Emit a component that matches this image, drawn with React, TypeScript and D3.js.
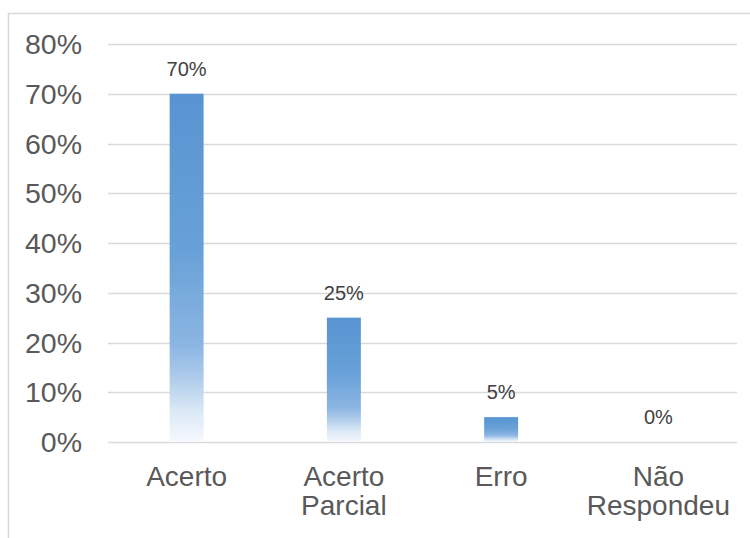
import React from "react";
import * as d3 from "d3";

// Answer categories (second entry wraps onto two lines)
const categories: string[][] = [["Acerto"], ["Acerto", "Parcial"], ["Erro"], ["Não", "Respondeu"]];
// Share of answers per category
const shares: number[] = [0.7, 0.25, 0.05, 0];
// Y-axis ticks
const yTicks: number[] = [0, 0.1, 0.2, 0.3, 0.4, 0.5, 0.6, 0.7, 0.8];

const W = 750;
const H = 538;
const plotLeft = 108;
const plotRight = 737;
const plotTop = 44;
const plotBottom = 442;

const gridColor = "#d9d9d9";
const textColor = "#595959";
const labelColor = "#404040";
const sans = "'Liberation Sans', Arial, sans-serif";

export default function App() {
  const keys = categories.map((c) => c.join(" "));
  const x = d3
    .scaleBand<string>()
    .domain(keys)
    .range([plotLeft, plotRight])
    .paddingInner(0.784)
    .paddingOuter(0.392);
  const y = d3.scaleLinear().domain([0, 0.8]).range([plotBottom, plotTop]);
  const pct = d3.format(".0%");

  return (
    <svg
      width={W}
      height={H}
      style={{ position: "absolute", left: 0, top: 0, background: "#fff" }}
    >
      <defs>
        <linearGradient id="barFill" x1="0" y1="0" x2="0" y2="1">
          <stop offset="0" stopColor="#5894d2" />
          <stop offset="0.45" stopColor="#68a1d8" />
          <stop offset="0.72" stopColor="#8bb5e2" />
          <stop offset="0.82" stopColor="#b0cdeb" />
          <stop offset="0.91" stopColor="#dbe8f6" />
          <stop offset="1" stopColor="#f6f9fd" />
        </linearGradient>
      </defs>

      {/* chart frame */}
      <rect
        x={8.5}
        y={13.5}
        width={W + 20}
        height={H + 20}
        fill="none"
        stroke={gridColor}
        strokeWidth={1.5}
      />

      {/* gridlines and y tick labels */}
      {yTicks.map((t) => (
        <g key={t}>
          <line
            x1={plotLeft}
            x2={plotRight}
            y1={Math.round(y(t)) + 0.5}
            y2={Math.round(y(t)) + 0.5}
            stroke={gridColor}
            strokeWidth={1.3}
          />
          <text
            x={82}
            y={y(t) + 10}
            textAnchor="end"
            fontFamily={sans}
            fontSize={28.5}
            fill={textColor}
          >
            {pct(t)}
          </text>
        </g>
      ))}

      {/* bars */}
      {keys.map((k, i) =>
        shares[i] > 0 ? (
          <rect
            key={k}
            x={x(k)}
            y={y(shares[i])}
            width={x.bandwidth()}
            height={y(0) - y(shares[i])}
            fill="url(#barFill)"
          />
        ) : null
      )}

      {/* value labels */}
      {keys.map((k, i) => (
        <text
          key={k}
          x={(x(k) as number) + x.bandwidth() / 2}
          y={y(shares[i]) - 18}
          textAnchor="middle"
          fontFamily={sans}
          fontSize={20}
          fill={labelColor}
        >
          {pct(shares[i])}
        </text>
      ))}

      {/* category labels */}
      {categories.map((lines, i) => (
        <text
          key={keys[i]}
          textAnchor="middle"
          fontFamily={sans}
          fontSize={28}
          fill={textColor}
        >
          {lines.map((ln, j) => (
            <tspan
              key={ln}
              x={(x(keys[i]) as number) + x.bandwidth() / 2}
              y={485.5 + j * 29}
            >
              {ln}
            </tspan>
          ))}
        </text>
      ))}
    </svg>
  );
}
